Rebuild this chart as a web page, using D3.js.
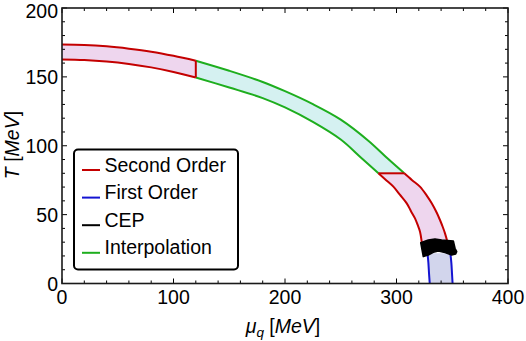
<!DOCTYPE html>
<html><head><meta charset="utf-8">
<script src="https://cdn.jsdelivr.net/npm/d3@7"></script>
<style>body{margin:0;background:#fff}svg{display:block}</style>
</head><body>
<svg id="c" width="526" height="341" font-family="'Liberation Sans', Arial, sans-serif"></svg>
<script>
// ---- data ----
const xTicks = [0, 100, 200, 300, 400];
const yTicks = [0, 50, 100, 150, 200];
// Second order band 1 (low mu)
const so1Mu  = [0, 20, 40, 60, 80, 100, 120];
const so1Up  = [173.5, 173.2, 172.2, 170.5, 168.3, 165.3, 161.7];
const so1Lo  = [162.7, 162.3, 161.2, 159.4, 156.9, 153.6, 149.6];
// Interpolation band
const ipUpMu = [120, 150, 180, 200, 225, 250, 275, 292.6, 307];
const ipUpT  = [161.7, 154.4, 146.3, 139.6, 130.2, 119, 103.5, 90.3, 80];
const ipLoMu = [120, 150, 180, 200, 225, 250, 268, 283.8];
const ipLoT  = [149.6, 142.3, 134.6, 127.8, 117.3, 104.5, 91.5, 80];
// Second order band 2 (towards CEP)
const so2OutMu = [307, 314, 321, 327, 331.6, 336, 339, 341.5, 343.5, 345.6, 347];
const so2OutT  = [80, 75, 70.3, 64, 58.2, 51.5, 46.1, 41, 36.4, 30.3, 25];
const so2InMu  = [283.8, 290, 297.2, 303, 309.2, 313, 316.6, 319, 321.1, 322.6, 323.4];
const so2InT   = [80, 75.5, 70.3, 64.5, 58.2, 52.5, 47.3, 42.5, 37.6, 30.3, 25];
// First order band
const foOutMu = [348.3, 349.2, 349.8, 350.3];
const foOutT  = [22, 15, 7, 0];
const foInMu  = [327.8, 328.6, 329.2, 329.8];
const foInT   = [22, 15, 7, 0];
// CEP region
const cepMu = [321.7, 328.5, 334.5, 340.5, 351, 352.5, 354, 353.1, 349.5, 343.5, 337.5, 333, 328.5, 324];
const cepT  = [29.6, 31.6, 32.3, 31.6, 30.9, 25.6, 23.1, 21.4, 20.7, 22.4, 23.6, 22.6, 20.7, 19.5];
// legend
const legendLabels = ["Second Order", "First Order", "CEP", "Interpolation"];
const legendColors = ["#c40000", "#1414d2", "#000000", "#1eae1e"];

// ---- layout ----
const FS = 19.5;
const svg = d3.select("#c");
const x = d3.scaleLinear().domain([0, 400]).range([62, 508]);
const y = d3.scaleLinear().domain([0, 200]).range([283.5, 8]);
const RED = legendColors[0], BLUE = legendColors[1], GREEN = legendColors[3];

const zip = (a, b) => a.map((v, i) => [v, b[i]]);
const line = d3.line().x(d => x(d[0])).y(d => y(d[1])).curve(d3.curveCatmullRom);
const straight = d3.line().x(d => x(d[0])).y(d => y(d[1]));
function band(up, lo) {
  const a = line(up);
  const b = line(lo.slice().reverse());
  return a + "L" + b.slice(1) + "Z";
}
const so1U = zip(so1Mu, so1Up), so1L = zip(so1Mu, so1Lo);
const ipU = zip(ipUpMu, ipUpT), ipL = zip(ipLoMu, ipLoT);
const so2O = zip(so2OutMu, so2OutT), so2I = zip(so2InMu, so2InT);
const foO = zip(foOutMu, foOutT), foI = zip(foInMu, foInT);

const g = svg.append("g");
// fills
g.append("path").attr("d", band(so1U, so1L)).attr("fill", "#eed6ee");
g.append("path").attr("d", band(ipU, ipL)).attr("fill", "#d5f1f1");
g.append("path").attr("d", band(so2O, so2I)).attr("fill", "#eed6ee");
g.append("path").attr("d", band(foO, foI)).attr("fill", "#d2d5ec");
// lines
const st = (p, c) => p.attr("fill", "none").attr("stroke", c).attr("stroke-width", 2).attr("stroke-linejoin", "round");
st(g.append("path").attr("d", line(ipU)), GREEN);
st(g.append("path").attr("d", line(ipL)), GREEN);
st(g.append("path").attr("d", line(so1U)), RED);
st(g.append("path").attr("d", line(so1L)), RED);
st(g.append("path").attr("d", straight([so1U[so1U.length-1], so1L[so1L.length-1]])), RED);
st(g.append("path").attr("d", line(so2O)), RED);
st(g.append("path").attr("d", line(so2I)), RED);
st(g.append("path").attr("d", straight([so2O[0], so2I[0]])), RED);
st(g.append("path").attr("d", line(foO)), BLUE);
st(g.append("path").attr("d", line(foI)), BLUE);
// CEP
g.append("path").attr("d", d3.line().x(d => x(d[0])).y(d => y(d[1])).curve(d3.curveLinearClosed)(zip(cepMu, cepT)))
  .attr("fill", "#000").attr("stroke", "#000").attr("stroke-width", 1.5).attr("stroke-linejoin", "round");

// ---- axes / frame ----
const ax = svg.append("g");
const minorX = d3.range(0, 401, 20), minorY = d3.range(0, 201, 10);
minorX.forEach(v => {
  const L = v % 100 === 0 ? 5 : 3;
  ax.append("line").attr("x1", x(v)).attr("x2", x(v)).attr("y1", y(0)).attr("y2", y(0) - L).attr("stroke", "#000");
  ax.append("line").attr("x1", x(v)).attr("x2", x(v)).attr("y1", y(200)).attr("y2", y(200) + L).attr("stroke", "#000");
});
minorY.forEach(v => {
  const L = v % 50 === 0 ? 5 : 3;
  ax.append("line").attr("y1", y(v)).attr("y2", y(v)).attr("x1", x(0)).attr("x2", x(0) + L).attr("stroke", "#000");
  ax.append("line").attr("y1", y(v)).attr("y2", y(v)).attr("x1", x(400)).attr("x2", x(400) - L).attr("stroke", "#000");
});
ax.append("rect").attr("x", x(0)).attr("y", y(200)).attr("width", x(400) - x(0)).attr("height", y(0) - y(200))
  .attr("fill", "none").attr("stroke", "#1a1a1a").attr("stroke-width", 1.6);
xTicks.forEach(v => ax.append("text").attr("x", x(v)).attr("y", 304).attr("text-anchor", "middle").attr("font-size", FS).text(v));
yTicks.forEach(v => ax.append("text").attr("x", 58).attr("y", Math.max(y(v) + 7, 18)).attr("text-anchor", "end").attr("font-size", FS).text(v));

// axis titles
const xt = svg.append("text").attr("x", 283).attr("y", 333).attr("text-anchor", "middle").attr("font-size", FS);
xt.append("tspan").attr("font-style", "italic").text("μ");
xt.append("tspan").attr("font-style", "italic").attr("font-size", 13.5).attr("dy", 4).text("q");
xt.append("tspan").attr("dy", -4).text(" [");
xt.append("tspan").attr("font-style", "italic").text("MeV");
xt.append("tspan").text("]");
const yt = svg.append("text").attr("transform", "translate(18.5,145) rotate(-90)").attr("text-anchor", "middle").attr("font-size", FS);
yt.append("tspan").attr("font-style", "italic").text("T");
yt.append("tspan").text(" [");
yt.append("tspan").attr("font-style", "italic").text("MeV");
yt.append("tspan").text("]");

// ---- legend ----
const lg = svg.append("g");
lg.append("rect").attr("x", 74).attr("y", 149.5).attr("width", 164).attr("height", 120).attr("rx", 4)
  .attr("fill", "#fff").attr("stroke", "#000").attr("stroke-width", 2);
legendLabels.forEach((t, i) => {
  const cy = 164.5 + i * 27.6;
  lg.append("line").attr("x1", 82).attr("x2", 100).attr("y1", cy + 5.5).attr("y2", cy + 5.5).attr("stroke", legendColors[i]).attr("stroke-width", 2);
  lg.append("text").attr("x", 104.5).attr("y", cy + 7).attr("font-size", FS).text(t);
});
</script>
</body></html>
